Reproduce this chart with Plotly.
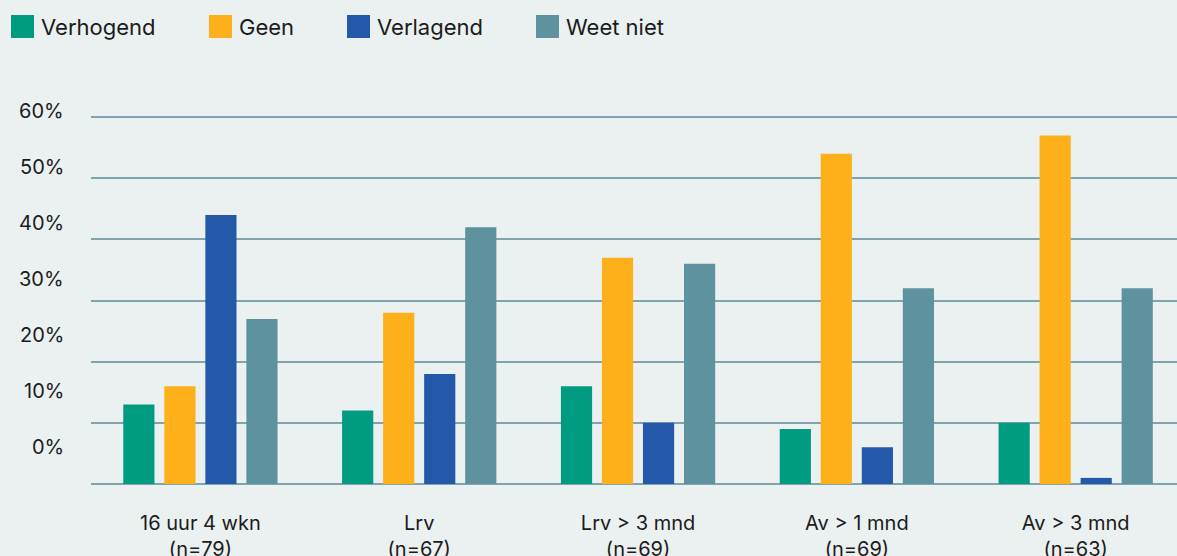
import plotly.graph_objects as go

categories = ["16 uur 4 wkn<br>(n=79)", "Lrv<br>(n=67)", "Lrv > 3 mnd<br>(n=69)",
              "Av > 1 mnd<br>(n=69)", "Av > 3 mnd<br>(n=63)"]
series_names = ["Verhogend", "Geen", "Verlagend", "Weet niet"]
verhogend = [13, 12, 16, 9, 10]
geen = [16, 28, 37, 54, 57]
verlagend = [44, 18, 10, 6, 1]
weet_niet = [27, 42, 36, 32, 32]
series_values = [verhogend, geen, verlagend, weet_niet]
colors = ["#009B80", "#FDB01A", "#2459A9", "#5E929F"]

ytick_vals = [0, 10, 20, 30, 40, 50, 60]
ytick_text = ["0%", "10%", "20%", "30%", "40%", "50%", "60%"]

FONT = "Inter, Lato, sans-serif"
TXT = "#1b1b1b"
BG = "#EBF0F1"
GRID = "#7FA4B0"

fig = go.Figure()
for name, vals, col in zip(series_names, series_values, colors):
    fig.add_trace(go.Bar(x=list(range(len(categories))), y=vals, name=name,
                         marker=dict(color=col, line=dict(width=0)),
                         showlegend=False))

# plot area geometry (pixels)
W, H = 1177, 556
L, R, T, B = 91, 0, 111, 72
plot_h = H - T - B
plot_w = W - L - R

annotations = []
shapes = []
# y-axis labels (offset from gridlines as in the original)
for v, t in zip(ytick_vals, ytick_text):
    ypix = 447 - v * 5.6
    annotations.append(dict(text=t, xref="paper", yref="paper",
                            x=(66 - L) / plot_w, y=(H - B - ypix) / plot_h,
                            xanchor="right", yanchor="middle", showarrow=False,
                            font=dict(family=FONT, size=20, color=TXT)))

# legend (manual, large square swatches)
legend_x = [11, 209, 347, 536]
for name, col, lx in zip(series_names, colors, legend_x):
    shapes.append(dict(type="rect", xref="paper", yref="paper",
                       x0=(lx - L) / plot_w, x1=(lx + 23 - L) / plot_w,
                       y0=(H - B - 38) / plot_h, y1=(H - B - 15) / plot_h,
                       fillcolor=col, line=dict(width=0), layer="above"))
    annotations.append(dict(text=name, xref="paper", yref="paper",
                            x=(lx + 28 - L) / plot_w, y=(H - B - 27) / plot_h,
                            xanchor="left", yanchor="middle", showarrow=False,
                            font=dict(family=FONT, size=22, color=TXT)))

fig.update_layout(
    width=W, height=H,
    margin=dict(l=L, r=R, t=T, b=B, pad=0, autoexpand=False),
    paper_bgcolor=BG, plot_bgcolor=BG,
    barmode="group", bargap=0.25, bargroupgap=0.24,
    font=dict(family=FONT, size=19, color=TXT),
    annotations=annotations, shapes=shapes,
    xaxis=dict(tickmode="array", tickvals=list(range(len(categories))),
               ticktext=categories, range=[-0.5, 4.463],
               showgrid=False, zeroline=False, showline=False,
               ticks="", ticklabelstandoff=25, automargin=False,
               tickfont=dict(family=FONT, size=20, color=TXT)),
    yaxis=dict(range=[0, 61], tickmode="array", tickvals=ytick_vals,
               showticklabels=False, showgrid=True, gridcolor=GRID,
               gridwidth=1.5, zeroline=True, zerolinecolor=GRID,
               zerolinewidth=1.5, showline=False, automargin=False),
)

fig.write_html("out.html", config={"displayModeBar": False},
               post_script="document.body.style.margin='0';document.body.style.overflow='hidden';")
